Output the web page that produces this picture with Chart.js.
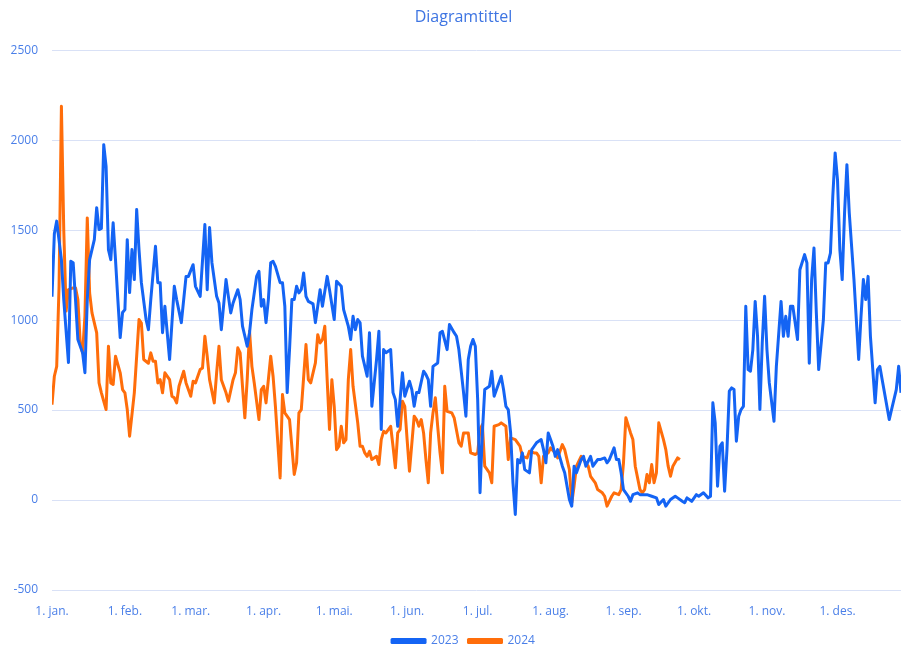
<!DOCTYPE html>
<html>
<head>
<meta charset="utf-8">
<script src="https://cdn.jsdelivr.net/npm/chart.js@4.4.0/dist/chart.umd.min.js"></script>
<style>
  html, body { margin: 0; padding: 0; background: #fff; }
</style>
</head>
<body>
<canvas id="chart" width="901" height="648"></canvas>
<script>
// day of year (0 = 1. jan.) and value
const days2023 = [0,1,2,4,5,7,8,9,10,11,13,14,15,16,18,19,20,21,22,23,24,25,26,27,28,29,30,31,32,33,34,35,36,37,38,40,41,42,44,45,46,47,48,50,52,53,55,57,58,60,61,63,65,66,67,68,70,71,72,74,75,76,77,79,80,81,83,84,85,87,88,89,90,91,92,93,94,95,97,98,99,100,101,102,103,104,105,106,107,108,109,111,112,114,115,117,118,120,121,123,124,126,127,128,129,130,131,132,134,135,136,138,139,140,141,142,144,145,146,147,148,149,150,152,153,154,155,156,158,159,160,161,162,164,165,166,168,169,171,172,173,175,176,177,178,179,180,181,182,183,184,186,187,188,190,191,192,193,194,195,196,197,198,199,200,201,203,204,205,206,208,209,210,211,212,213,214,215,217,218,220,221,222,223,225,226,227,229,230,232,233,235,236,237,239,240,241,242,243,245,246,247,249,250,252,253,255,257,258,260,261,263,265,266,268,269,270,272,274,275,277,279,280,281,282,283,284,285,286,287,288,289,290,291,292,293,294,295,296,297,298,299,300,301,302,303,304,305,307,308,310,311,312,313,314,315,317,318,320,321,322,323,324,325,326,328,329,330,331,332,333,334,335,336,337,338,339,340,341,343,344,345,346,347,348,350,351,352,353,355,356,357,359,360,361,362];
const values2023 = [1130,1480,1550,1336,1114,764,1327,1319,1114,892,819,708,1114,1336,1447,1625,1503,1510,1975,1854,1392,1336,1541,1336,1114,903,1042,1058,1447,1153,1392,1225,1614,1392,1208,1003,947,1114,1410,1208,1208,930,1077,781,1188,1114,986,1243,1243,1308,1188,1132,1531,1169,1514,1319,1132,1095,947,1225,1132,1040,1095,1169,1114,966,855,930,1058,1243,1271,1077,1114,986,1114,1319,1327,1299,1208,1208,1077,597,836,1114,1114,1188,1151,1170,1262,1132,1104,1090,986,1169,1077,1243,1169,1003,1216,1188,1058,966,892,1021,947,1003,986,800,688,930,521,781,938,392,836,819,836,597,558,410,558,708,577,660,614,521,597,597,716,697,669,521,743,762,930,938,836,975,930,910,836,597,466,781,855,892,855,558,41,375,614,632,716,577,651,688,614,521,503,375,96,-80,225,207,262,169,151,280,299,318,336,280,207,373,336,299,243,280,188,151,3,-34,188,151,225,243,188,243,188,225,225,234,207,225,290,225,225,151,58,21,-7,30,40,30,30,30,21,12,-25,3,-34,3,21,12,-7,-15,12,-7,30,21,40,12,21,540,429,77,299,318,49,280,605,623,614,327,466,503,521,1077,725,716,836,1104,910,503,873,1132,836,651,438,743,1104,910,1021,910,1077,1077,892,1280,1364,1318,760,1225,1401,1040,725,1003,1318,1318,1373,1688,1929,1781,1392,1225,1596,1864,1596,1410,1225,781,1021,1225,1114,1243,910,540,725,743,669,521,447,503,614,743,596,560];

const days2024 = [0,1,2,3,4,5,6,7,9,10,11,12,13,14,15,16,17,19,20,21,23,24,25,26,27,29,30,31,32,33,35,37,38,39,41,42,43,44,45,46,47,48,50,51,52,53,54,56,57,59,60,61,63,64,65,66,67,69,70,71,72,74,75,77,78,79,80,81,82,83,84,85,86,88,89,90,91,93,94,95,97,98,99,101,103,104,105,106,108,109,110,112,113,114,115,116,117,118,119,120,121,122,123,124,125,126,127,128,130,131,132,133,134,135,136,138,139,140,141,142,144,145,146,147,148,149,150,151,152,154,155,156,157,158,159,160,161,162,163,164,165,166,167,168,170,171,173,174,175,176,177,178,180,181,182,183,184,186,187,188,190,191,193,194,195,197,198,199,200,202,203,205,206,207,208,209,211,212,214,215,217,218,220,221,222,223,225,226,228,229,231,232,234,235,236,238,239,241,242,243,244,246,247,248,250,251,252,253,254,255,256,257,258,260,261,262,263,264,266,267];
const values2024 = [530,688,743,1188,2188,1500,1050,1169,1179,1179,1114,873,818,1021,1568,1151,1040,929,651,596,503,855,651,642,799,707,614,596,503,355,596,1003,984,781,760,818,771,771,651,669,596,707,669,577,568,540,632,716,651,577,660,651,725,734,910,799,669,540,707,855,669,596,549,669,707,846,818,632,457,669,938,743,650,447,614,632,540,799,688,521,123,586,484,447,142,207,484,503,864,669,651,762,919,873,892,966,669,392,669,521,280,299,410,318,336,669,836,632,429,299,299,262,243,271,225,243,197,336,382,373,410,299,179,373,392,549,521,336,160,466,447,410,447,373,225,96,373,484,568,410,262,151,632,493,484,457,318,299,373,373,373,262,253,262,392,419,188,151,96,410,419,429,410,225,345,336,318,299,243,234,271,262,262,243,96,243,262,290,262,234,308,280,169,-16,77,188,243,225,188,132,96,58,40,21,-34,21,40,30,58,207,457,373,336,188,58,40,58,142,96,197,96,151,429,336,280,188,132,188,234,225];

const monthStarts = [0, 31, 59, 90, 120, 151, 181, 212, 243, 273, 304, 334];
const monthLabels = ['1. jan.', '1. feb.', '1. mar.', '1. apr.', '1. mai.', '1. jun.', '1. jul.', '1. aug.', '1. sep.', '1. okt.', '1. nov.', '1. des.'];
const yMin = -500, yMax = 2500, yStep = 500;
const seriesNames = ['2023', '2024'];

const textBlue = '#4a7fe8';
const gridColor = '#d9e1f6';

function toPoints(days, values) {
    return days.map((d, i) => ({ x: d, y: values[i] }));
}

Chart.defaults.font.family = "'Open Sans', 'Liberation Sans', sans-serif";

// the original picture is cut off on the right, so title and legend are centred a bit right of the canvas middle
const ctx = document.getElementById('chart').getContext('2d');
new Chart(ctx, {
    type: 'line',
    data: {
        datasets: [{
            label: seriesNames[0],
            data: toPoints(days2023, values2023),
            borderColor: '#1464f4',
            backgroundColor: '#1464f4',
            borderWidth: 3,
            pointRadius: 0,
            tension: 0,
            borderJoinStyle: 'round'
        }, {
            label: seriesNames[1],
            data: toPoints(days2024, values2024),
            borderColor: '#ff6d0a',
            backgroundColor: '#ff6d0a',
            borderWidth: 3,
            pointRadius: 0,
            tension: 0,
            borderJoinStyle: 'round'
        }]
    },
    options: {
        responsive: false,
        animation: false,
        layout: {
            padding: { left: 0, right: -26, top: 0, bottom: -9 }
        },
        plugins: {
            title: {
                display: true,
                text: 'Diagramtittel',
                color: '#3d74e2',
                font: { size: 16, weight: 'normal' },
                padding: { top: 8, bottom: 23 }
            },
            legend: {
                position: 'bottom',
                labels: {
                    boxWidth: 33,
                    boxHeight: 3,
                    color: textBlue,
                    font: { size: 12 },
                    padding: 10
                }
            },
            tooltip: { enabled: false }
        },
        scales: {
            x: {
                type: 'linear',
                min: 0,
                max: 361,
                afterBuildTicks: function(scale) {
                    scale.ticks = monthStarts.map(v => ({ value: v }));
                },
                afterFit: function(scale) {
                    scale.height = 35;
                },
                ticks: {
                    autoSkip: false,
                    maxRotation: 0,
                    color: textBlue,
                    font: { size: 12 },
                    padding: 6,
                    callback: function(value) {
                        const i = monthStarts.indexOf(value);
                        return i >= 0 ? monthLabels[i] : '';
                    }
                },
                grid: { display: false },
                border: { display: false }
            },
            y: {
                min: yMin,
                max: yMax,
                afterFit: function(scale) {
                    scale.width = 52;
                },
                ticks: {
                    stepSize: yStep,
                    color: textBlue,
                    font: { size: 12 },
                    padding: 14,
                    callback: function(value) {
                        return String(value);
                    }
                },
                grid: {
                    color: gridColor,
                    lineWidth: 1,
                    drawTicks: false
                },
                border: { display: false }
            }
        }
    }
});
</script>
</body>
</html>
